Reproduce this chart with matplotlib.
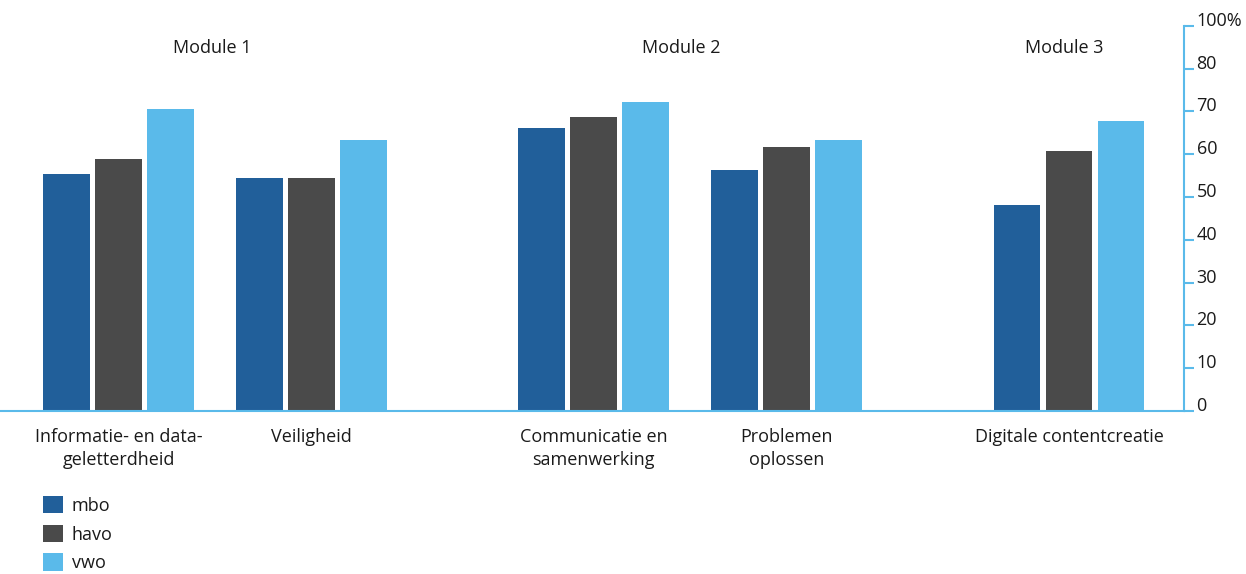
import numpy as np
import matplotlib.pyplot as plt
from matplotlib.patches import Patch

plt.rcParams['font.family'] = ['Open Sans', 'DejaVu Sans']

# Scores per competentiegebied en onderwijstype (%)
categories = ["Informatie- en data-\ngeletterdheid", "Veiligheid",
              "Communicatie en\nsamenwerking", "Problemen\noplossen",
              "Digitale contentcreatie"]
mbo = [55.4, 54.5, 66.1, 56.3, 48.2]
havo = [58.9, 54.5, 68.7, 61.7, 60.8]
vwo = [70.5, 63.3, 72.2, 63.3, 67.7]
modules = ["Module 1", "Module 2", "Module 3"]

levels = ["mbo", "havo", "vwo"]
colors = ["#215f9a", "#4a4a4a", "#5abaea"]
axis_col = "#5abaea"
text_col = "#1a1a1a"
fs = 13

# groepen binnen een module dichter bij elkaar, extra ruimte tussen modules
centers = np.array([0, 3.71, 9.14, 12.84, 18.28])
module_x = [1.80, 10.82, 18.19]
step = 1.0
width = 0.9

fig = plt.figure(figsize=(12.46, 5.74), dpi=100)
ax = fig.add_axes([0.0, 163 / 574, 1184 / 1246, (411 - 25.7) / 574])

for i, (vals, col) in enumerate(zip([mbo, havo, vwo], colors)):
    ax.bar(centers + (i - 1) * step, vals, width=width, color=col, zorder=2)

ax.set_xlim(-2.28, 20.49)
ax.set_ylim(0, 90)

# y-as rechts
yt = np.arange(0, 100, 10)
ax.yaxis.tick_right()
ax.set_yticks(yt)
ax.set_yticklabels([str(v) for v in yt[:-1]] + ["100%"])
ax.tick_params(axis='y', direction='out', length=7, width=1.5, color=axis_col,
               pad=2, labelsize=fs, labelcolor=text_col)
for lbl in ax.get_yticklabels():
    lbl.set_verticalalignment('baseline')

ax.set_xticks(centers)
ax.set_xticklabels(categories, fontsize=fs, color=text_col, linespacing=1.4)
ax.tick_params(axis='x', length=0, pad=12)

for s in ['top', 'left']:
    ax.spines[s].set_visible(False)
for s in ['bottom', 'right']:
    ax.spines[s].set_color(axis_col)
    ax.spines[s].set_linewidth(1.5)

for name, x in zip(modules, module_x):
    ax.text(x, 84.9, name, ha='center', va='center', fontsize=fs, color=text_col)

handles = [Patch(facecolor=c, edgecolor='none') for c in colors]
fig.legend(handles, levels, loc='upper left', bbox_to_anchor=(43 / 1246, 1 - 496 / 574),
           frameon=False, borderpad=0, borderaxespad=0, fontsize=fs,
           handlelength=1.1, handleheight=1.1, handletextpad=0.5,
           labelspacing=0.55, labelcolor=text_col)

fig.savefig("out.png", dpi=100)
